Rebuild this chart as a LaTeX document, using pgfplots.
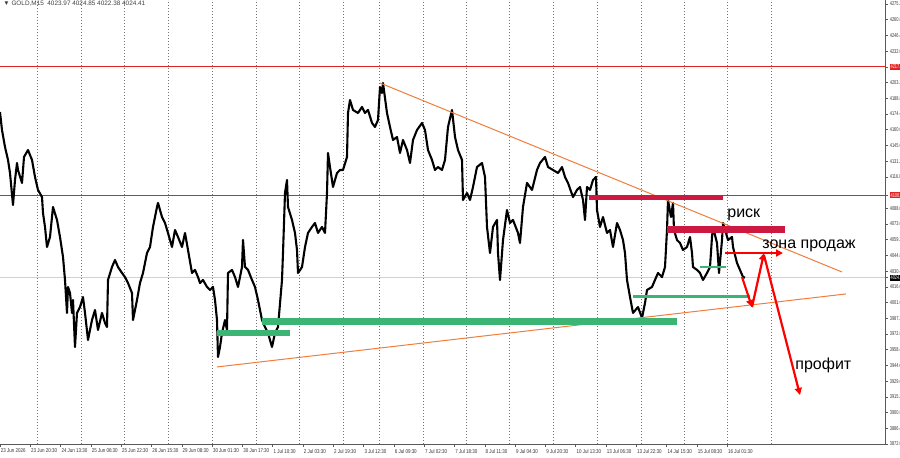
\documentclass[border=0pt]{standalone}
\usepackage{fontspec}
\setmainfont{Liberation Sans}
\usepackage{pgfplots}
\pgfplotsset{compat=1.18}
\usetikzlibrary{arrows.meta}
\definecolor{mtred}{RGB}{225,35,35}
\definecolor{crim}{RGB}{205,25,65}
\definecolor{zgreen}{RGB}{60,180,115}
\definecolor{orng}{RGB}{240,125,60}
\begin{document}
\begin{tikzpicture}
\useasboundingbox (0,0) rectangle (450pt,229pt);
\clip (0,0) rectangle (450pt,229pt);
\begin{axis}[
  at={(0pt,7pt)}, anchor=south west, scale only axis,
  width=442.5pt, height=222pt,
  xmin=0, xmax=885, ymin=3872, ymax=4278.87,
  axis x line*=bottom, axis y line*=right,
  axis line style={-, draw=black!65, line width=0.4pt},
  tick align=outside, major tick length=1.5pt,
  tick style={draw=black!65, line width=0.3pt},
  xtick={0,30.3,60.6,90.9,121.2,151.5,181.8,212.1,242.4,272.7,303,333.3,363.6,393.9,424.2,454.5,484.8,515.1,545.4,575.7,606,636.3,666.6,696.9,727.2},
  xticklabels={23 Jun 2026,23 Jun 20:30,24 Jun 13:30,25 Jun 06:30,25 Jun 22:30,26 Jun 15:30,29 Jun 08:30,30 Jun 01:30,30 Jun 17:30,1 Jul 10:30,2 Jul 03:30,2 Jul 19:30,3 Jul 12:30,6 Jul 09:30,7 Jul 02:30,7 Jul 18:30,8 Jul 11:30,9 Jul 04:30,9 Jul 20:30,10 Jul 13:30,13 Jul 06:30,13 Jul 22:30,14 Jul 15:30,15 Jul 08:30,16 Jul 01:30},
  xticklabel style={anchor=north west, inner sep=0pt, xshift=0.3pt, yshift=-0.8pt, xscale=0.8, font=\fontsize{2.8}{3.2}\selectfont, text=black!80},
  ytick={3872,3886.4,3900.8,3915.2,3929.6,3944,3958.4,3972.8,3987.2,4001.6,4016,4030.4,4044.8,4059.2,4073.6,4088,4116.8,4131.2,4145.6,4160,4174.4,4188.8,4203.2,4232,4246.4,4260.8,4275.2},
  scaled y ticks=false,
  yticklabel style={anchor=west, inner sep=0pt, xshift=0.8pt, xscale=0.7, font=\fontsize{2.8}{3.2}\selectfont, text=black!80,
    /pgf/number format/fixed, /pgf/number format/fixed zerofill, /pgf/number format/precision=2, /pgf/number format/1000 sep={}},
  /pgf/number format/assume math mode=true,
  extra x ticks={37,81,124,168,212,256,299,343,379,423,466,509,553,597,641,684,727,771},
  extra x tick labels={},
  extra x tick style={grid=major, major tick length=0pt, major grid style={black!55, line width=0.3pt, dash pattern=on 0.6pt off 0.9pt}},
  extra y ticks={4217.6,4100,4024.41},
  extra y tick labels={{\fboxsep=0.5pt\colorbox{mtred}{\textcolor{white}{4217.60}}},{\fboxsep=0.5pt\colorbox{mtred}{\textcolor{white}{4100.00}}},{\fboxsep=0.5pt\colorbox{black}{\textcolor{white}{4024.41}}}},
  extra y tick style={yticklabel style={inner sep=0pt, xshift=0pt}},
  clip=false,
]
% horizontal levels
\addplot[mtred, line width=0.5pt] coordinates {(0,4217.6) (885,4217.6)};
\addplot[mtred, line width=0.5pt] coordinates {(0,4100) (885,4100)};
\addplot[black!18, line width=0.4pt] coordinates {(0,4024.41) (885,4024.41)};
% price
\addplot[black, line width=1.05pt, line join=round] table {
0 4176.2
2 4159.7
5 4144.2
8 4132.3
10 4120.3
13 4091.0
15 4113.9
17 4129.5
18 4123.1
22 4111.2
24 4135.0
28 4141.4
32 4132.3
35 4116.7
38 4104.8
42 4098.3
43 4083.7
45 4070.9
47 4052.5
50 4061.7
53 4089.2
57 4077.3
60 4061.7
63 4043.4
65 4022.3
67 3992.1
68 4015.9
70 4010.4
72 3992.1
73 4004.0
75 3960.9
77 3992.1
80 3997.5
83 4006.7
85 3992.1
88 3967.3
92 3985.6
95 3994.8
98 3976.5
102 3992.1
105 3982.9
107 3979.2
108 4022.3
112 4034.2
115 4040.6
118 4034.2
122 4028.7
125 4025.0
128 4019.5
132 4010.4
133 3985.6
137 4004.0
140 4019.5
143 4028.7
147 4047.0
150 4052.5
153 4070.9
157 4089.2
158 4092.9
162 4080.0
165 4074.5
168 4065.4
172 4052.5
175 4068.1
178 4061.7
182 4052.5
185 4065.4
188 4049.8
192 4028.7
195 4031.5
198 4025.0
200 4019.5
203 4022.3
207 4015.9
210 4013.1
213 4015.9
215 4004.0
217 3985.6
218 3951.7
220 3960.9
222 3973.7
225 3985.6
227 3976.5
228 4028.7
232 4031.5
235 4025.0
238 4015.9
242 4034.2
243 4058.9
245 4034.2
248 4031.5
252 4022.3
255 4015.9
258 4004.0
262 3985.6
265 3979.2
268 3973.7
272 3960.9
275 3973.7
278 3979.2
282 4022.3
283 4047.0
285 4102.0
287 4113.9
288 4089.2
292 4077.3
295 4065.4
297 4049.8
298 4028.7
302 4034.2
305 4052.5
308 4065.4
312 4070.9
315 4074.5
318 4065.4
322 4070.9
325 4065.4
327 4102.0
328 4138.7
330 4125.8
333 4107.5
337 4120.3
340 4123.1
343 4123.1
347 4135.0
348 4175.3
350 4187.2
353 4178.1
358 4175.3
362 4180.8
365 4175.3
368 4178.1
372 4166.2
375 4162.5
378 4168.9
380 4199.1
382 4193.6
383 4202.8
387 4175.3
390 4162.5
393 4150.6
397 4153.3
400 4138.7
403 4150.6
407 4141.4
410 4129.5
413 4150.6
417 4159.7
422 4166.2
425 4159.7
428 4141.4
432 4132.3
435 4123.1
438 4125.8
442 4123.1
445 4132.3
448 4162.5
452 4178.1
455 4153.3
458 4141.4
462 4132.3
463 4095.6
467 4102.0
470 4095.6
473 4107.5
477 4125.8
482 4129.5
485 4116.7
487 4070.9
490 4047.0
493 4070.9
497 4077.3
498 4047.0
500 4022.3
503 4058.9
507 4086.4
510 4074.5
513 4077.3
518 4065.4
520 4056.2
523 4089.2
527 4111.2
532 4104.8
537 4123.1
540 4129.5
545 4135.0
548 4125.8
553 4123.1
558 4120.3
562 4125.8
565 4116.7
568 4111.2
573 4098.3
577 4104.8
580 4107.5
583 4095.6
585 4077.3
587 4107.5
590 4104.8
593 4113.9
596 4116.7
597 4086.4
600 4070.9
603 4080.0
607 4065.4
610 4068.1
613 4052.5
617 4074.5
620 4068.1
623 4058.9
625 4047.0
627 4022.3
630 4006.7
633 3992.1
638 3997.5
642 3987.5
645 4001.2
647 4013.1
652 4015.9
655 4022.3
658 4028.7
662 4025.0
665 4034.2
667 4068.1
668 4095.6
671 4080.0
673 4092.9
674 4068.1
677 4058.9
680 4056.2
683 4049.8
687 4052.5
690 4061.7
692 4047.0
693 4034.2
697 4031.5
700 4028.7
703 4022.3
707 4028.7
710 4034.2
712 4061.7
713 4070.9
717 4056.2
719 4028.7
722 4058.9
723 4074.5
726 4065.4
728 4058.9
732 4061.7
733 4052.5
737 4037.9
740 4031.5
743 4025.0
745 4024.4
};
% trend lines
\addplot[orng, line width=0.5pt] coordinates {(380,4202.8) (842,4029.6)};
\addplot[orng, line width=0.5pt] coordinates {(217,3942.6) (846,4009.5)};
% green zones
\addplot[zgreen, line width=3pt] coordinates {(217,3973.7) (290,3973.7)};
\addplot[zgreen, line width=3.5pt] coordinates {(262,3984.7) (677,3984.7)};
\addplot[zgreen, line width=1.5pt] coordinates {(633,4007.6) (750,4007.6)};
\addplot[zgreen, line width=1pt] coordinates {(700,4034.2) (726,4034.2)};
% crimson zones
\addplot[crim, line width=2.5pt] coordinates {(589,4098.3) (723,4098.3)};
\addplot[crim, line width=3.5pt] coordinates {(667,4068.1) (785,4068.1)};
% red arrows
\addplot[red, line width=1.1pt, -{Triangle[length=3.5pt,width=3.5pt]}] coordinates {(725,4047.0) (783,4047.0)};
\addplot[red, line width=1.1pt, -{Triangle[length=3.5pt,width=3.5pt]}] coordinates {(742,4025.0) (752,3997.5)};
\addplot[red, line width=1.1pt, -{Triangle[length=3.5pt,width=3.5pt]}] coordinates {(752,3997.5) (764,4047.0)};
\addplot[red, line width=1.1pt, -{Triangle[length=3.5pt,width=3.5pt]}] coordinates {(764,4045.0) (800,3916.9)};
% texts
\node[anchor=base west, inner sep=0pt, font=\fontsize{8}{9}\selectfont] at (axis cs:727,4080.0) {риск};
\node[anchor=base west, inner sep=0pt, font=\fontsize{8}{9}\selectfont] at (axis cs:762,4050.7) {зона продаж};
\node[anchor=base west, inner sep=0pt, font=\fontsize{8}{9}\selectfont] at (axis cs:795,3940.7) {профит};
\end{axis}
\node[anchor=west, inner sep=0pt, font=\fontsize{3.2}{3.6}\selectfont, text=black!75] at (1.5pt,227.2pt) {▼ GOLD,M15\ \ 4023.97 4024.85 4022.38 4024.41};
\end{tikzpicture}
\end{document}
